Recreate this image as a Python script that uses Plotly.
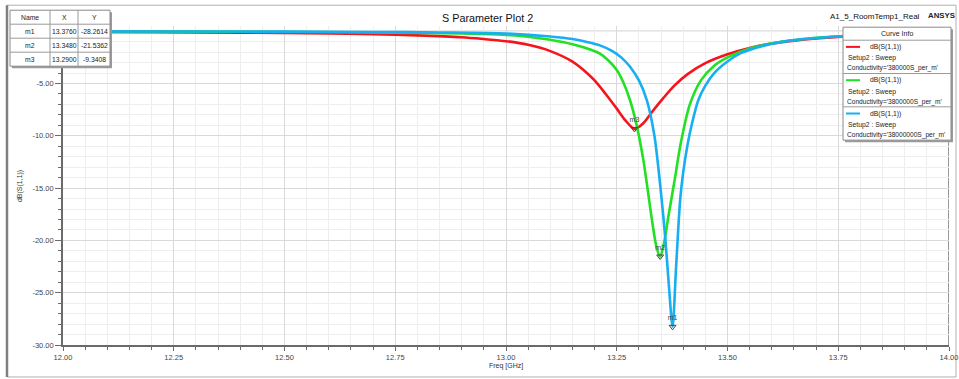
import plotly.graph_objects as go

# ---- data -------------------------------------------------------------
freq_red = [12.00, 12.20, 12.40, 12.60, 12.70, 12.80, 12.90, 12.95, 13.00, 13.05,
            13.10, 13.15, 13.175, 13.20, 13.225, 13.25, 13.27, 13.29, 13.31, 13.33,
            13.355, 13.38, 13.41, 13.45, 13.50, 13.55, 13.60, 13.65, 13.70, 13.80,
            13.90, 14.00]
db_red = [-0.06, -0.09, -0.14, -0.22, -0.29, -0.40, -0.58, -0.75, -0.95, -1.30,
          -1.90, -2.90, -3.70, -4.70, -6.00, -7.40, -8.55, -9.3408, -8.80, -7.70,
          -6.40, -5.20, -4.10, -3.05, -2.20, -1.60, -1.18, -0.90, -0.70, -0.43,
          -0.28, -0.18]

freq_green = [12.00, 12.30, 12.55, 12.75, 12.90, 13.00, 13.05, 13.10, 13.15, 13.19,
              13.212, 13.23, 13.25, 13.265, 13.28, 13.295, 13.31, 13.318, 13.33, 13.34,
              13.348, 13.357, 13.367, 13.38, 13.395, 13.415, 13.44, 13.47, 13.50, 13.55,
              13.60, 13.70, 13.80, 13.90, 14.00]
db_green = [-0.02, -0.04, -0.08, -0.14, -0.22, -0.35, -0.52, -0.82, -1.25, -1.75,
            -2.15, -2.75, -3.70, -4.90, -6.60, -9.00, -12.30, -14.60, -18.20, -20.70,
            -21.5362, -20.20, -17.60, -14.40, -10.60, -7.00, -4.70, -3.30, -2.50, -1.65,
            -1.15, -0.62, -0.38, -0.25, -0.16]

freq_blue = [12.00, 12.25, 12.50, 12.70, 12.85, 13.00, 13.10, 13.15, 13.18, 13.212,
             13.24, 13.26, 13.28, 13.30, 13.318, 13.335, 13.35, 13.36, 13.368, 13.376,
             13.384, 13.393, 13.40, 13.41, 13.42, 13.434, 13.45, 13.47, 13.50, 13.53,
             13.58, 13.65, 13.75, 13.85, 14.00]
db_blue = [-0.01, -0.02, -0.04, -0.07, -0.12, -0.22, -0.50, -0.74, -1.00, -1.35,
           -1.90, -2.50, -3.40, -4.70, -6.60, -10.00, -15.50, -20.00, -24.50, -28.2614,
           -22.50, -16.20, -13.50, -10.80, -8.80, -6.60, -5.20, -4.00, -2.90, -2.10,
           -1.40, -0.85, -0.50, -0.30, -0.15]

curve_colors = ["#f5141c", "#22e022", "#17aef2"]
curve_names = ["dB(S(1,1))", "dB(S(1,1))", "dB(S(1,1))"]
conductivity = ["Conductivity='380000S_per_m'",
                "Conductivity='3800000S_per_m'",
                "Conductivity='38000000S_per_m'"]

marker_names = ["m1", "m2", "m3"]
marker_x = [13.3760, 13.3480, 13.2900]
marker_y = [-28.2614, -21.5362, -9.3408]

x_ticks = [12.00, 12.25, 12.50, 12.75, 13.00, 13.25, 13.50, 13.75, 14.00]
y_ticks = [-30, -25, -20, -15, -10, -5]

# ---- layout geometry (pixels) ------------------------------------------
W, H = 959, 379
L, R, T, B = 63, 10, 25.8, 34
PW, PH = W - L - R, H - T - B
FONT = "Liberation Sans, Arial, sans-serif"


def px(x):
    return (x - L) / PW


def py(y):
    return (H - B - y) / PH


fig = go.Figure()

series = [(freq_red, db_red), (freq_green, db_green), (freq_blue, db_blue)]
for (f, d), c, n in zip(series, curve_colors, curve_names):
    fig.add_trace(go.Scatter(x=f, y=d, mode="lines", name=n,
                             line=dict(color=c, width=2.6, shape="spline", smoothing=0.8),
                             hoverinfo="x+y"))

fig.add_trace(go.Scatter(x=marker_x, y=marker_y, mode="markers+text", text=marker_names,
                         textposition="top center",
                         textfont=dict(size=7, color="#444", family=FONT),
                         marker=dict(symbol="triangle-down-open", size=6,
                                     color="#444", line=dict(width=1, color="#444")),
                         cliponaxis=False, showlegend=False))

shapes = []
# outer frame
shapes.append(dict(type="rect", xref="paper", yref="paper",
                   x0=px(7), x1=px(956), y0=py(377), y1=py(5),
                   line=dict(color="#b0b0b0", width=1), layer="below"))
shapes.append(dict(type="line", xref="paper", yref="paper",
                   x0=px(7), x1=px(7), y0=py(377), y1=py(5),
                   line=dict(color="#808080", width=2.5)))
# plot border top / right
shapes.append(dict(type="line", xref="x", yref="y", x0=12, x1=14, y0=0, y1=0,
                   line=dict(color="#9a9a9a", width=1), layer="below"))
shapes.append(dict(type="line", xref="x", yref="y", x0=14, x1=14, y0=-30, y1=0,
                   line=dict(color="#777", width=1.5), layer="below"))

annotations = []

# marker table (top left)
tx0, tx1, ty0, ty1 = 10, 110, 10, 66
col_edges = [10, 50, 78, 110]
row_edges = [10, 24, 38, 52, 66]
shapes.append(dict(type="rect", xref="paper", yref="paper",
                   x0=px(tx0 + 2), x1=px(tx1 + 2), y0=py(ty1 + 2), y1=py(ty0 + 2),
                   fillcolor="#9a9a9a", line=dict(width=0)))
shapes.append(dict(type="rect", xref="paper", yref="paper",
                   x0=px(tx0), x1=px(tx1), y0=py(ty1), y1=py(ty0),
                   fillcolor="white", line=dict(color="#8a8a8a", width=1)))
for cx in col_edges[1:-1]:
    shapes.append(dict(type="line", xref="paper", yref="paper",
                       x0=px(cx), x1=px(cx), y0=py(ty1), y1=py(ty0),
                       line=dict(color="#9a9a9a", width=1)))
for ry in row_edges[1:-1]:
    shapes.append(dict(type="line", xref="paper", yref="paper",
                       x0=px(tx0), x1=px(tx1), y0=py(ry), y1=py(ry),
                       line=dict(color="#9a9a9a", width=1)))
table_rows = [["Name", "X", "Y"]] + [
    [n, f"{x:.4f}", f"{y:.4f}"] for n, x, y in zip(marker_names, marker_x, marker_y)]
for ri, row in enumerate(table_rows):
    yc = (row_edges[ri] + row_edges[ri + 1]) / 2
    for ci, cell in enumerate(row):
        xc = (col_edges[ci] + col_edges[ci + 1]) / 2
        annotations.append(dict(xref="paper", yref="paper", x=px(xc), y=py(yc),
                                text=cell, showarrow=False, xanchor="center",
                                yanchor="middle",
                                font=dict(size=6.8, color="#222", family=FONT)))

# curve info box (top right)
lx0, lx1, ly0, ly1 = 843, 951, 27, 140
shapes.append(dict(type="rect", xref="paper", yref="paper",
                   x0=px(lx0 + 2), x1=px(lx1 + 2), y0=py(ly1 + 2), y1=py(ly0 + 2),
                   fillcolor="#9a9a9a", line=dict(width=0)))
shapes.append(dict(type="rect", xref="paper", yref="paper",
                   x0=px(lx0), x1=px(lx1), y0=py(ly1), y1=py(ly0),
                   fillcolor="white", line=dict(color="#8a8a8a", width=1)))
annotations.append(dict(xref="paper", yref="paper", x=px((lx0 + lx1) / 2), y=py(33.5),
                        text="Curve Info", showarrow=False, xanchor="center",
                        yanchor="middle", font=dict(size=7, color="#222", family=FONT)))
entry_h = (ly1 - 40) / 3
for i in range(3):
    top = 40 + i * entry_h
    shapes.append(dict(type="line", xref="paper", yref="paper",
                       x0=px(lx0), x1=px(lx1), y0=py(top), y1=py(top),
                       line=dict(color="#9a9a9a", width=1)))
    shapes.append(dict(type="line", xref="paper", yref="paper",
                       x0=px(846), x1=px(860), y0=py(top + 6.7), y1=py(top + 6.7),
                       line=dict(color=curve_colors[i], width=2)))
    annotations.append(dict(xref="paper", yref="paper", x=px(868), y=py(top + 6.7),
                            text=curve_names[i], showarrow=False, xanchor="left",
                            yanchor="middle", font=dict(size=6.8, color="#222", family=FONT)))
    annotations.append(dict(xref="paper", yref="paper", x=px(846), y=py(top + 18.3),
                            text="Setup2 : Sweep", showarrow=False, xanchor="left",
                            yanchor="middle", font=dict(size=6.8, color="#222", family=FONT)))
    annotations.append(dict(xref="paper", yref="paper", x=px(845), y=py(top + 28.3),
                            text=conductivity[i], showarrow=False, xanchor="left",
                            yanchor="middle", font=dict(size=6.6, color="#222", family=FONT)))

# titles
annotations.append(dict(xref="paper", yref="paper", x=px(487.5), y=py(18),
                        text="S Parameter Plot 2", showarrow=False, xanchor="center",
                        yanchor="middle", font=dict(size=10.8, color="#111", family=FONT)))
annotations.append(dict(xref="paper", yref="paper", x=px(922), y=py(16.5),
                        text="A1_5_RoomTemp1_Real", showarrow=False, xanchor="right",
                        yanchor="middle", font=dict(size=8, color="#111", family=FONT)))
annotations.append(dict(xref="paper", yref="paper", x=px(957), y=py(15.5),
                        text="<b>ANSYS</b>", showarrow=False, xanchor="right",
                        yanchor="middle", font=dict(size=7.8, color="#222", family=FONT)))
annotations.append(dict(xref="paper", yref="paper", x=px(20), y=py(186),
                        text="dB(S(1,1))", showarrow=False, textangle=-90,
                        xanchor="center", yanchor="middle",
                        font=dict(size=7, color="#333", family=FONT)))
annotations.append(dict(xref="paper", yref="paper", x=px(506), y=py(366),
                        text="Freq [GHz]", showarrow=False, xanchor="center",
                        yanchor="middle", font=dict(size=7, color="#333", family=FONT)))

fig.update_layout(
    width=W, height=H,
    margin=dict(l=L, r=R, t=T, b=B, pad=0, autoexpand=False),
    paper_bgcolor="white", plot_bgcolor="white",
    showlegend=False,
    shapes=shapes, annotations=annotations,
    font=dict(family=FONT, size=7.5, color="#444"),
    xaxis=dict(range=[12, 14], tickvals=x_ticks, ticktext=[f"{v:.2f}" for v in x_ticks],
               showline=True, linecolor="#6a6a6a", linewidth=1.6,
               ticks="outside", ticklen=4, tickcolor="#6a6a6a", tickwidth=1.2,
               showgrid=True, gridcolor="#d9d9d9", gridwidth=1, zeroline=False,
               automargin=False, tickfont=dict(size=7.5, color="#444"),
               minor=dict(tick0=12, dtick=0.05, ticks="outside", ticklen=3,
                          tickcolor="#6a6a6a", showgrid=True, gridcolor="#eeeeee")),
    yaxis=dict(range=[-30, 0.5], tickvals=y_ticks, ticktext=[f"{v:.2f}" for v in y_ticks],
               showline=True, linecolor="#6a6a6a", linewidth=1.6,
               ticks="outside", ticklen=6, tickcolor="#6a6a6a", tickwidth=1.2,
               showgrid=True, gridcolor="#d9d9d9", gridwidth=1, zeroline=False,
               automargin=False, tickfont=dict(size=7.5, color="#444"),
               minor=dict(tick0=0, dtick=1, ticks="outside", ticklen=3,
                          tickcolor="#6a6a6a", showgrid=True, gridcolor="#eeeeee")),
)

fig.write_html("out.html")
